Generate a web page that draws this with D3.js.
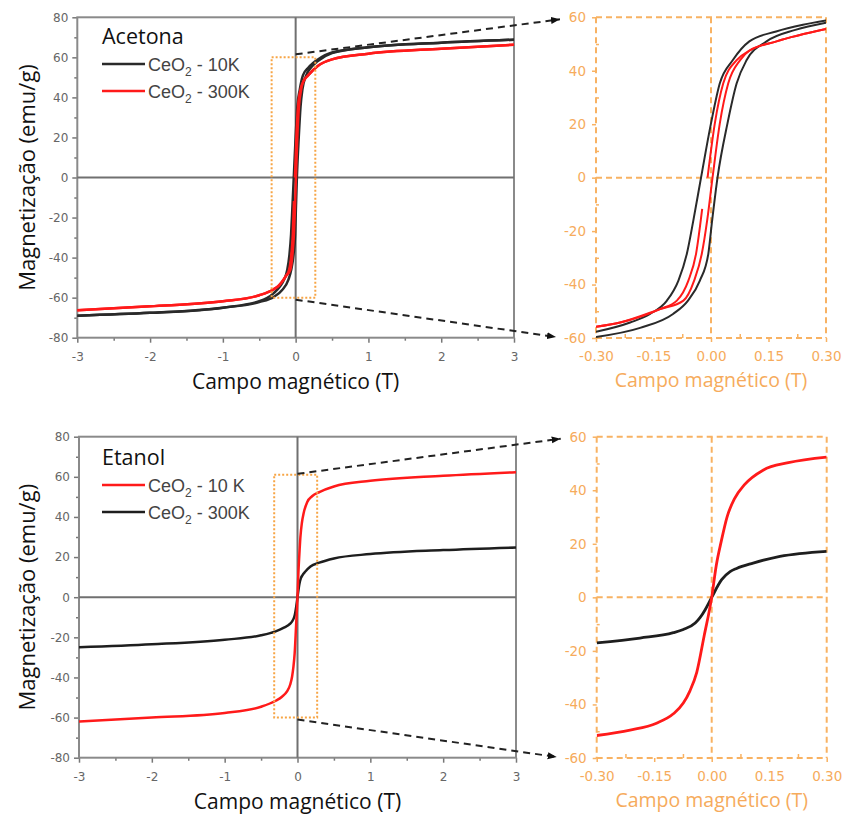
<!DOCTYPE html>
<html>
<head>
<meta charset="utf-8">
<script src="https://cdn.jsdelivr.net/npm/d3@7"></script>
<style>
  html, body { margin: 0; padding: 0; background: #fff; }
  svg { display: block; }
</style>
</head>
<body>
<div id="chart"></div>
<script>
// ---- data (H in tesla, M in emu/g) ----

// Acetona, 10 K: descending / ascending branches of the loop
const aceH10Down = [-3, -2, -1, -0.5, -0.3, -0.211, -0.159, -0.115, -0.085, -0.063, -0.046, -0.026, 0.0, 0.023, 0.057, 0.1, 0.17, 0.24, 0.3, 0.5, 1, 2, 3];
const aceM10Down = [-69.0, -67.6, -65.0, -61.8, -57.7, -54.2, -51.0, -46.0, -38.5, -28.5, -16.0, 0, 20.3, 35.3, 44.0, 51.0, 54.7, 57.2, 58.8, 62.4, 65.0, 67.3, 68.8];
const aceH10Up = [-3, -2, -1, -0.5, -0.3, -0.185, -0.099, -0.06, -0.029, -0.007, 0.003, 0.017, 0.043, 0.067, 0.093, 0.145, 0.22, 0.3, 0.5, 1, 2, 3];
const aceM10Up = [-69.0, -67.6, -65.0, -62.2, -59.6, -56.2, -51.0, -46.0, -38.5, -28.5, -16.0, 0, 20.3, 35.3, 44.0, 51.0, 55.3, 58.0, 62.1, 65.0, 67.3, 68.8];

// Acetona, 300 K (descending branch has a small gap near zero)
const aceH300DownA = [-3, -2, -1, -0.5, -0.3, -0.237, -0.133, -0.089, -0.059, -0.039, -0.023];
const aceM300DownA = [-66.3, -64.3, -61.8, -58.8, -55.8, -54.2, -49.2, -46.0, -38.5, -28.5, -11.7];
const aceH300DownB = [-0.009, 0.010, 0.032, 0.067, 0.1, 0.171, 0.3, 0.5, 1, 2, 3];
const aceM300DownB = [0, 20.3, 35.3, 44.0, 47.5, 51.0, 55.6, 59.0, 61.8, 64.3, 66.3];
const aceH300Up = [-3, -2, -1, -0.5, -0.3, -0.237, -0.133, -0.072, -0.044, -0.024, -0.010, 0.004, 0.023, 0.045, 0.076, 0.1, 0.171, 0.3, 0.5, 1, 2, 3];
const aceM300Up = [-66.3, -64.3, -61.8, -58.8, -55.8, -54.2, -49.2, -46.0, -38.5, -28.5, -16.0, 0, 20.3, 35.3, 44.0, 47.5, 51.0, 55.6, 59.0, 61.8, 64.3, 66.3];

// Etanol
const etaH10 = [-3, -2, -1, -0.5, -0.3, -0.213, -0.144, -0.1, -0.074, -0.057, -0.039, -0.020, 0, 0.012, 0.025, 0.04, 0.06, 0.085, 0.134, 0.2, 0.3, 0.5, 1, 2, 3];
const etaM10 = [-62.0, -60.0, -57.7, -54.6, -51.6, -49.6, -47.0, -43.5, -39.5, -35.0, -28.0, -14.6, 0, 12.0, 21.0, 30.0, 37.0, 42.0, 47.5, 50.3, 52.4, 55.2, 58.0, 60.5, 62.3];
const etaH300 = [-3, -2, -1, -0.5, -0.3, -0.187, -0.1, -0.074, -0.043, -0.031, -0.017, 0, 0.026, 0.048, 0.065, 0.108, 0.178, 0.3, 0.5, 1, 2, 3];
const etaM300 = [-25.0, -23.5, -21.2, -19.0, -17.0, -15.2, -13.2, -12.0, -9.6, -7.7, -4.6, 0, 6.6, 9.6, 10.8, 12.8, 15.3, 17.2, 19.3, 21.5, 23.5, 24.8];

// ticks
const mainXTicks = [-3, -2, -1, 0, 1, 2, 3];
const mainYTicks = [-80, -60, -40, -20, 0, 20, 40, 60, 80];
const insetXTicks = [-0.30, -0.15, 0.00, 0.15, 0.30];
const insetYTicks = [-60, -40, -20, 0, 20, 40, 60];

const RED = '#ff1a1a';
const BLACK = '#1e1e1e';
const ORANGE = '#f8b263';
const ORANGE_TXT = '#f6ab5c';

const zip = (h, m) => h.map((v, i) => [v, m[i]]);
// plain hyphen for negatives, as in the figure
const fmtInt = d => String(d);
const fmt2 = d => d3.format('.2f')(d).replace('\u2212', '-');

const panels = [
  {
    name: 'Acetona',
    main: { x0: 77.3, x1: 514, y0: 337.7, y1: 17.3 },
    inset: { x0: 596, x1: 826, y0: 338, y1: 17.3 },
    box: [-0.33, 0.27, -60, 60],
    xlabelY: 389,
    legendY: 44,
    series: [
      { pts: zip(aceH10Down, aceM10Down), color: '#2a2a2a' },
      { pts: zip(aceH10Up, aceM10Up), color: '#2a2a2a' },
      { pts: zip(aceH300DownA, aceM300DownA), color: RED },
      { pts: zip(aceH300DownB, aceM300DownB), color: RED },
      { pts: zip(aceH300Up, aceM300Up), color: RED }
    ],
    insetWidth: 2,
    legend: [
      { label: ['CeO', '2', ' - 10K'], color: '#2a2a2a' },
      { label: ['CeO', '2', ' - 300K'], color: RED }
    ]
  },
  {
    name: 'Etanol',
    main: { x0: 79, x1: 516, y0: 757.7, y1: 436.7 },
    inset: { x0: 596.7, x1: 826.7, y0: 758, y1: 436.7 },
    box: [-0.32, 0.27, -60, 61],
    xlabelY: 809,
    legendY: 465,
    series: [
      { pts: zip(etaH300, etaM300), color: BLACK },
      { pts: zip(etaH10, etaM10), color: RED }
    ],
    insetWidth: 2.8,
    legend: [
      { label: ['CeO', '2', ' - 10 K'], color: RED },
      { label: ['CeO', '2', ' - 300K'], color: BLACK }
    ]
  }
];

const svg = d3.select('#chart').append('svg')
  .attr('width', 844)
  .attr('height', 816);

svg.append('defs').append('marker')
  .attr('id', 'arrow')
  .attr('markerUnits', 'userSpaceOnUse')
  .attr('markerWidth', 10).attr('markerHeight', 8)
  .attr('refX', 9).attr('refY', 3.5)
  .attr('orient', 'auto')
  .append('path')
  .attr('d', 'M0,0 L9,3.5 L0,7 Z')
  .attr('fill', '#111');

panels.forEach(p => {
  const x = d3.scaleLinear().domain([-3, 3]).range([p.main.x0, p.main.x1]);
  const y = d3.scaleLinear().domain([-80, 80]).range([p.main.y0, p.main.y1]);
  const xi = d3.scaleLinear().domain([-0.3, 0.3]).range([p.inset.x0, p.inset.x1]);
  const yi = d3.scaleLinear().domain([-60, 60]).range([p.inset.y0, p.inset.y1]);

  // ---------- main panel ----------
  const g = svg.append('g');

  // minor ticks
  g.append('g')
    .attr('transform', `translate(${x(-3)},0)`)
    .call(d3.axisLeft(y).tickValues(d3.range(-70, 80, 20)).tickSize(3).tickFormat(''))
    .call(a => a.select('.domain').remove());
  g.append('g')
    .attr('transform', `translate(0,${y(-80)})`)
    .call(d3.axisBottom(x).tickValues(d3.range(-2.5, 3, 1)).tickSize(3).tickFormat(''))
    .call(a => a.select('.domain').remove());

  const yAx = g.append('g')
    .attr('transform', `translate(${x(-3)},0)`)
    .call(d3.axisLeft(y).tickValues(mainYTicks).tickSize(5).tickPadding(4).tickFormat(fmtInt));
  const xAx = g.append('g')
    .attr('transform', `translate(0,${y(-80)})`)
    .call(d3.axisBottom(x).tickValues(mainXTicks).tickSize(5).tickPadding(10).tickFormat(fmtInt));
  [yAx, xAx].forEach(a => {
    a.select('.domain').remove();
    a.selectAll('text')
      .attr('fill', '#666')
      .style('font-family', '"DejaVu Sans", sans-serif')
      .style('font-size', '12px');
  });
  g.selectAll('.tick line').attr('stroke', '#777').attr('stroke-width', 1.5);

  // frame and zero lines
  g.append('rect')
    .attr('x', x(-3)).attr('y', y(80))
    .attr('width', x(3) - x(-3)).attr('height', y(-80) - y(80))
    .attr('fill', 'none').attr('stroke', '#8a8a8a').attr('stroke-width', 2);
  g.append('line')
    .attr('x1', x(-3)).attr('x2', x(3)).attr('y1', y(0)).attr('y2', y(0))
    .attr('stroke', '#707070').attr('stroke-width', 2);
  g.append('line')
    .attr('x1', x(0)).attr('x2', x(0)).attr('y1', y(80)).attr('y2', y(-80))
    .attr('stroke', '#707070').attr('stroke-width', 2);

  const line = d3.line()
    .x(d => x(d[0])).y(d => y(d[1]))
    .curve(d3.curveMonotoneX);

  p.series.forEach(s => {
    g.append('path')
      .attr('d', line(s.pts))
      .attr('fill', 'none')
      .attr('stroke', s.color)
      .attr('stroke-width', 2.5)
      .attr('stroke-linejoin', 'round');
  });

  // zoom box
  g.append('rect')
    .attr('x', x(p.box[0])).attr('y', y(p.box[3]))
    .attr('width', x(p.box[1]) - x(p.box[0]))
    .attr('height', y(p.box[2]) - y(p.box[3]))
    .attr('fill', 'none')
    .attr('stroke', '#f7a545')
    .attr('stroke-width', 2)
    .attr('stroke-dasharray', '2,2');

  // legend
  g.append('text')
    .attr('x', 102).attr('y', p.legendY)
    .style('font-family', '"Open Sans", sans-serif')
    .style('font-size', '21.5px')
    .attr('fill', '#111')
    .text(p.name);
  p.legend.forEach((l, i) => {
    const ly = p.legendY + 20 + i * 27;
    g.append('line')
      .attr('x1', 102).attr('x2', 145)
      .attr('y1', ly).attr('y2', ly)
      .attr('stroke', l.color).attr('stroke-width', 2.5);
    const t = g.append('text')
      .attr('x', 148).attr('y', ly + 7)
      .attr('fill', '#444')
      .style('font-family', '"Liberation Sans", Arial, sans-serif')
      .style('font-size', '18px');
    t.append('tspan').text(l.label[0]);
    t.append('tspan').attr('dy', 5).style('font-size', '12px').text(l.label[1]);
    t.append('tspan').attr('dy', -5).text(l.label[2]);
  });

  // axis titles
  g.append('text')
    .attr('transform', `translate(35,${y(0)}) rotate(-90)`)
    .attr('text-anchor', 'middle')
    .style('font-family', '"Open Sans", sans-serif')
    .style('font-size', '22px')
    .attr('fill', '#111')
    .text('Magnetização (emu/g)');
  g.append('text')
    .attr('x', x(0)).attr('y', p.xlabelY)
    .attr('text-anchor', 'middle')
    .style('font-family', '"Open Sans", sans-serif')
    .style('font-size', '21px')
    .attr('fill', '#111')
    .text('Campo magnético (T)');

  // ---------- inset ----------
  const gi = svg.append('g');

  const dashed = (x1, y1, x2, y2) => gi.append('line')
    .attr('x1', x1).attr('y1', y1).attr('x2', x2).attr('y2', y2)
    .attr('stroke', ORANGE).attr('stroke-width', 2)
    .attr('stroke-dasharray', '6,4');
  dashed(xi(-0.3), yi(60), xi(0.3), yi(60));
  dashed(xi(-0.3), yi(-60), xi(0.3), yi(-60));
  dashed(xi(-0.3), yi(60), xi(-0.3), yi(-60));
  dashed(xi(0.3), yi(60), xi(0.3), yi(-60));
  dashed(xi(-0.3), yi(0), xi(0.3), yi(0));
  dashed(xi(0), yi(60), xi(0), yi(-60));

  // inset ticks
  gi.append('g')
    .attr('transform', `translate(${xi(-0.3)},0)`)
    .call(d3.axisRight(yi).tickValues([-50, -30, -10, 10, 30, 50]).tickSize(3).tickFormat(''))
    .call(a => a.select('.domain').remove());
  gi.append('g')
    .attr('transform', `translate(0,${yi(-60)})`)
    .call(d3.axisTop(xi).tickValues([-0.225, -0.075, 0.075, 0.225]).tickSize(4).tickFormat(''))
    .call(a => a.select('.domain').remove());
  const yiAx = gi.append('g')
    .attr('transform', `translate(${xi(-0.3)},0)`)
    .call(d3.axisLeft(yi).tickValues(insetYTicks).tickSize(4).tickPadding(6).tickFormat(fmtInt));
  const xiAx = gi.append('g')
    .attr('transform', `translate(0,${yi(-60)})`)
    .call(d3.axisBottom(xi).tickValues(insetXTicks).tickSize(4).tickPadding(9).tickFormat(fmt2));
  [yiAx, xiAx].forEach(a => {
    a.select('.domain').remove();
    a.selectAll('text')
      .attr('fill', ORANGE_TXT)
      .style('font-family', '"DejaVu Sans", sans-serif')
      .style('font-size', '13.5px');
  });
  gi.selectAll('.tick line').attr('stroke', ORANGE).attr('stroke-width', 1.5);

  const clipId = 'clip-' + p.name;
  gi.append('clipPath').attr('id', clipId)
    .append('rect')
    .attr('x', xi(-0.3)).attr('y', yi(60))
    .attr('width', xi(0.3) - xi(-0.3)).attr('height', yi(-60) - yi(60));

  const lineI = d3.line()
    .x(d => xi(d[0])).y(d => yi(d[1]))
    .curve(d3.curveMonotoneX);

  p.series.forEach(s => {
    const pts = s.pts.filter(d => Math.abs(d[0]) <= 0.3 + 1e-9);
    gi.append('path')
      .attr('d', lineI(pts))
      .attr('clip-path', `url(#${clipId})`)
      .attr('fill', 'none')
      .attr('stroke', s.color)
      .attr('stroke-width', p.insetWidth)
      .attr('stroke-linejoin', 'round');
  });

  gi.append('text')
    .attr('x', xi(0)).attr('y', p.xlabelY - 2)
    .attr('text-anchor', 'middle')
    .style('font-family', '"Open Sans", sans-serif')
    .style('font-size', '19.5px')
    .attr('fill', ORANGE_TXT)
    .text('Campo magnético (T)');

  // ---------- connectors ----------
  const conn = (x1, y1, x2, y2) => svg.append('line')
    .attr('x1', x1).attr('y1', y1).attr('x2', x2).attr('y2', y2)
    .attr('stroke', '#222').attr('stroke-width', 2)
    .attr('stroke-dasharray', '7,5')
    .attr('marker-end', 'url(#arrow)');
  conn(x(0), y(61.5), xi(-0.3) - 36, yi(60) + 2);
  conn(x(0), y(-61), xi(-0.3) - 40, yi(-60) - 1);
});
</script>
</body>
</html>
